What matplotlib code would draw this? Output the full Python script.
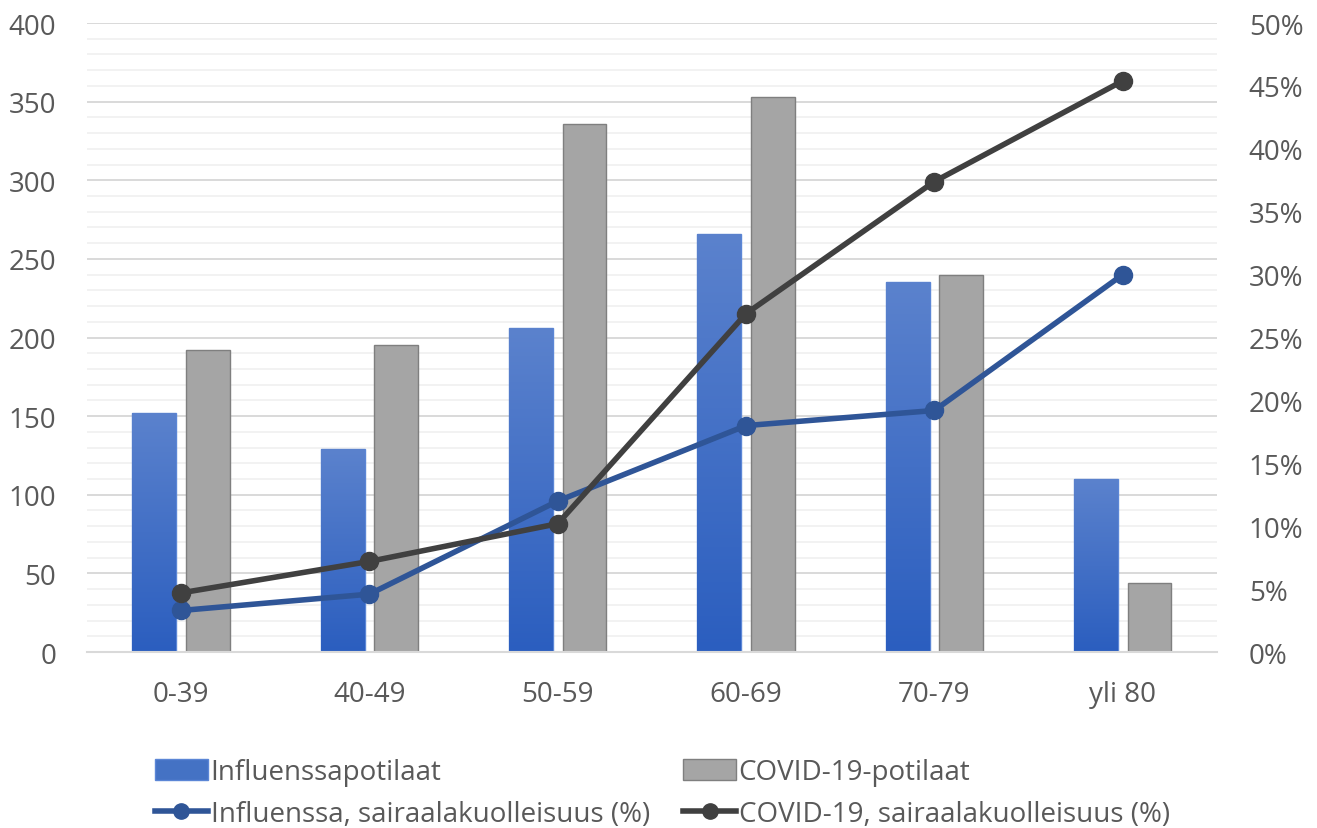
import numpy as np
import matplotlib.pyplot as plt
from matplotlib.colors import LinearSegmentedColormap
from matplotlib.ticker import MultipleLocator, PercentFormatter
from matplotlib.patches import Patch
from matplotlib.lines import Line2D

# data
age_groups = ['0-39', '40-49', '50-59', '60-69', '70-79', 'yli 80']
influenza_patients = [152, 129, 206, 266, 235, 110]
covid_patients = [192, 195, 336, 353, 240, 44]
influenza_mortality = [3.3, 4.6, 12.0, 18.0, 19.2, 30.0]
covid_mortality = [4.7, 7.2, 10.2, 26.9, 37.4, 45.4]

plt.rcParams['font.family'] = ['Open Sans', 'DejaVu Sans']
text_color = '#595959'
blue_line = '#2F5597'
dark_line = '#404040'

fig = plt.figure(figsize=(13.17, 8.29), dpi=100)
ax = fig.add_axes([0.066, 0.2123, 0.858, 0.7587])

x = np.arange(len(age_groups))
width = 0.233
offset = 0.142

blue_bars = ax.bar(x - offset, influenza_patients, width, color='#4472C4',
                   edgecolor='#5B86D6', linewidth=1, zorder=2)
gray_bars = ax.bar(x + offset, covid_patients, width, color='#A5A5A5',
                   edgecolor='#7F7F7F', linewidth=1, zorder=2)

# vertical gradient on the blue bars
grad_cmap = LinearSegmentedColormap.from_list('blues', ['#2B5EBF', '#5B82CD'])
grad = np.linspace(0, 1, 256).reshape(-1, 1)
for bar in blue_bars:
    bx, by = bar.get_x(), bar.get_y()
    bw, bh = bar.get_width(), bar.get_height()
    im = ax.imshow(grad, extent=[bx, bx + bw, by, by + bh], origin='lower',
                   aspect='auto', cmap=grad_cmap, zorder=2.1)
    im.set_clip_path(bar)

ax.set_xlim(-0.5, len(age_groups) - 0.5)
ax.set_ylim(0, 400)
ax.yaxis.set_major_locator(MultipleLocator(50))
ax.yaxis.set_minor_locator(MultipleLocator(10))
ax.grid(which='major', axis='y', color='#D9D9D9', linewidth=1.4, zorder=0)
ax.grid(which='minor', axis='y', color='#F2F2F2', linewidth=1.4, zorder=0)
ax.set_axisbelow(True)
for side in ['top', 'left', 'right']:
    ax.spines[side].set_visible(False)
ax.spines['bottom'].set_color('#D9D9D9')
ax.spines['bottom'].set_linewidth(1.5)
ax.set_xticks(x)
ax.set_xticklabels(age_groups)
ax.tick_params(which='both', length=0)
ax.tick_params(axis='x', labelsize=20, labelcolor=text_color, pad=20)
ax.tick_params(axis='y', labelsize=20, labelcolor=text_color, pad=22)

# mortality lines on the secondary axis
ax2 = ax.twinx()
ax2.plot(x, influenza_mortality, color=blue_line, linewidth=4, marker='o',
         markersize=13, zorder=3)
ax2.plot(x, covid_mortality, color=dark_line, linewidth=4, marker='o',
         markersize=13, zorder=3)
ax2.set_ylim(0, 50)
ax2.yaxis.set_major_locator(MultipleLocator(5))
ax2.yaxis.set_major_formatter(PercentFormatter(decimals=0))
for side in ['top', 'left', 'right', 'bottom']:
    ax2.spines[side].set_visible(False)
ax2.tick_params(length=0, labelsize=20, labelcolor=text_color, pad=23)

handles = [
    Patch(facecolor='#4472C4', edgecolor='#5B86D6'),
    Line2D([], [], color=blue_line, linewidth=4, marker='o', markersize=11),
    Patch(facecolor='#A5A5A5', edgecolor='#7F7F7F'),
    Line2D([], [], color=dark_line, linewidth=4, marker='o', markersize=11),
]
labels = ['Influenssapotilaat', 'Influenssa, sairaalakuolleisuus (%)',
          'COVID-19-potilaat', 'COVID-19, sairaalakuolleisuus (%)']
fig.legend(handles, labels, ncol=2, loc='upper left',
           bbox_to_anchor=(155 / 1317, 1 - 759 / 829), frameon=False,
           fontsize=20, labelcolor=text_color, handlelength=1.9,
           handleheight=0.8, handletextpad=0.1, labelspacing=0.5,
           columnspacing=1.2, borderpad=0, borderaxespad=0)

fig.savefig('out.png', dpi=100)
